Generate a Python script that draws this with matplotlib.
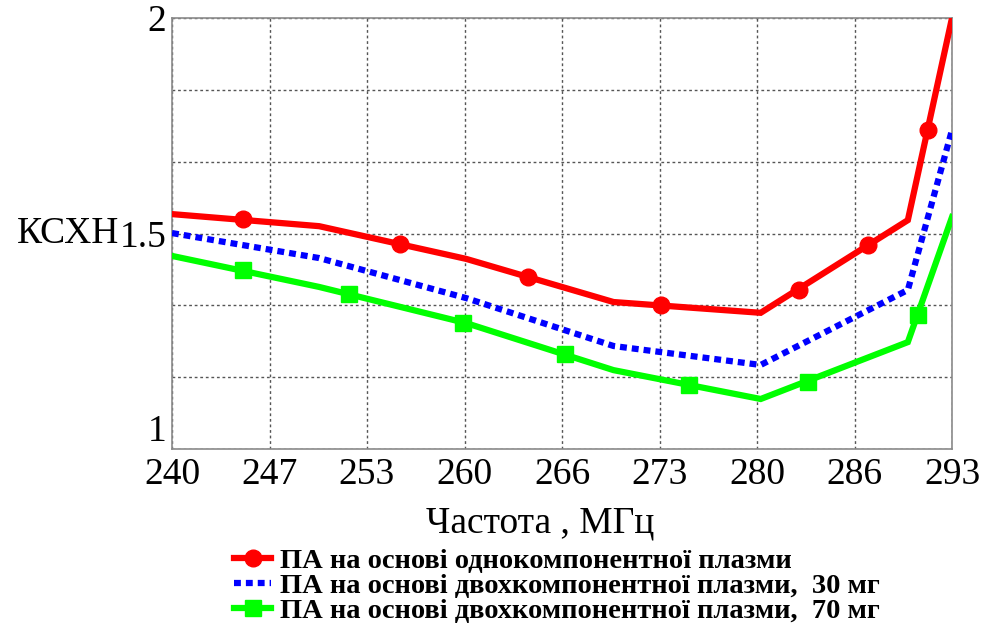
import numpy as np
import matplotlib
matplotlib.use("Agg")
import matplotlib.pyplot as plt
from matplotlib.lines import Line2D

# ---------------------------------------------------------------------------
# data
# ---------------------------------------------------------------------------
freq = [240, 250, 260, 270, 280, 290, 293]

# one-component plasma (red)
vswr_one = [1.545, 1.517, 1.441, 1.341, 1.316, 1.531, 2.0]
mark_one_f = [244.8, 255.5, 264.2, 273.2, 282.6, 287.3, 291.4]
mark_one_v = [1.534, 1.476, 1.399, 1.334, 1.369, 1.473, 1.740]

# two-component plasma, 30 mg (blue dotted)
vswr_30 = [1.501, 1.443, 1.350, 1.239, 1.195, 1.369, 1.740]

# two-component plasma, 70 mg (green)
vswr_70 = [1.448, 1.376, 1.292, 1.183, 1.116, 1.248, 1.538]
mark_70_f = [244.8, 252.0, 259.8, 266.7, 275.1, 283.2, 290.7]
mark_70_v = [1.415, 1.360, 1.292, 1.220, 1.148, 1.155, 1.311]

xtick_labels = ['240', '247', '253', '260', '266', '273', '280', '286', '293']
ytick_labels = ['1', '', '', '1.5', '', '', '2']

labels = ['ПА на основі однокомпонентної плазми',
          'ПА на основі двохкомпонентної плазми,  30 мг',
          'ПА на основі двохкомпонентної плазми,  70 мг']

red = '#ff0000'
blue = '#0000ff'
green = '#00ff00'

plt.rcParams['font.family'] = ['Liberation Serif', 'DejaVu Serif']

fig = plt.figure(figsize=(9.88, 6.27), dpi=100)
ax = fig.add_axes([172 / 988, 1 - 449 / 627, 780 / 988, 431 / 627])

# curves
ax.plot(freq, vswr_one, color=red, lw=4.5, solid_joinstyle='miter', zorder=5)
ax.plot(mark_one_f, mark_one_v, 'o', color=red, ms=12, zorder=6)

ax.plot(freq, vswr_30, color=blue, lw=4.5, dashes=(1.1, 0.8),
        dash_capstyle='butt', zorder=4)

ax.plot(freq, vswr_70, color=green, lw=4.5, solid_joinstyle='miter', zorder=3)
ax.plot(mark_70_f, mark_70_v, 's', color=green, ms=12, zorder=3)

# axes
ax.set_xlim(240, 293)
ax.set_ylim(1, 2)
ax.set_xticks(np.linspace(240, 293, len(xtick_labels)))
ax.set_xticklabels(xtick_labels)
ax.set_yticks(np.linspace(1, 2, len(ytick_labels)))
ax.set_yticklabels(ytick_labels)
ax.tick_params(length=0, labelsize=27)
ax.tick_params(axis='x', pad=6)
ax.tick_params(axis='y', pad=4)
ax.get_yticklabels()[0].set_va('bottom')
ax.grid(True, ls=(0, (2, 2)), color='#555555', lw=1)
for s in ax.spines.values():
    s.set_color('#8a8a8a')
    s.set_linewidth(1.2)

ax.set_xlabel('Частота , МГц', fontsize=27)
ax.xaxis.set_label_coords(0.472, -0.132)
ax.set_ylabel('КСХН', fontsize=27, rotation=0, va='center', ha='right')
ax.yaxis.set_label_coords(-0.068, 0.5)

# legend
handles = [Line2D([], [], color=red, lw=4.5, marker='o', ms=12),
           Line2D([], [], color=blue, lw=4.5, dashes=(1.1, 0.8), dash_capstyle='butt'),
           Line2D([], [], color=green, lw=4.5, marker='s', ms=12)]
fig.legend(handles, labels, loc='upper left', bbox_to_anchor=(220 / 988, 1 - 534 / 627),
           frameon=False, handlelength=1.3, handletextpad=0.3, labelspacing=-0.03,
           borderpad=0, prop={'size': 20.5, 'weight': 'bold'})

fig.savefig('out.png', dpi=100)
